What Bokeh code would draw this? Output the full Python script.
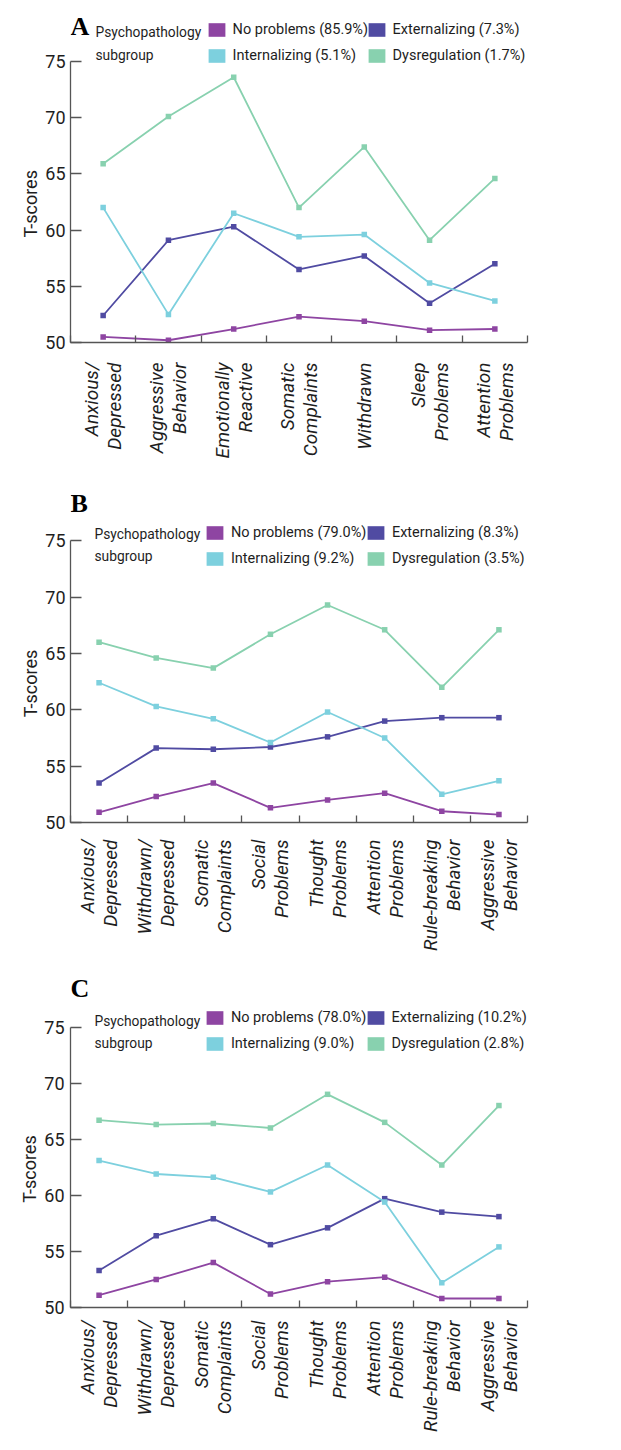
import numpy as np
from bokeh.plotting import figure
from bokeh.models import Range1d, FixedTicker, Legend, LegendItem, Label, LinearAxis, Title
from bokeh.layouts import column
from bokeh.embed import file_html
from bokeh.resources import INLINE

# ---------------- data ----------------
group_names = ["No problems", "Externalizing", "Internalizing", "Dysregulation"]
group_colors = ["#8E45A2", "#504BA2", "#7DD0DE", "#88D1AF"]
y_ticks = [50, 55, 60, 65, 70, 75]

a_labels = ["Anxious/\nDepressed", "Aggressive\nBehavior", "Emotionally\nReactive",
            "Somatic\nComplaints", "Withdrawn", "Sleep\nProblems", "Attention\nProblems"]
a_pct = ["85.9%", "7.3%", "5.1%", "1.7%"]
a_no_problems = [50.5, 50.2, 51.2, 52.3, 51.9, 51.1, 51.2]
a_externalizing = [52.4, 59.1, 60.3, 56.5, 57.7, 53.5, 57.0]
a_internalizing = [62.0, 52.5, 61.5, 59.4, 59.6, 55.3, 53.7]
a_dysregulation = [65.9, 70.1, 73.6, 62.0, 67.4, 59.1, 64.6]

bc_labels = ["Anxious/\nDepressed", "Withdrawn/\nDepressed", "Somatic\nComplaints",
             "Social\nProblems", "Thought\nProblems", "Attention\nProblems",
             "Rule-breaking\nBehavior", "Aggressive\nBehavior"]

b_pct = ["79.0%", "8.3%", "9.2%", "3.5%"]
b_no_problems = [50.9, 52.3, 53.5, 51.3, 52.0, 52.6, 51.0, 50.7]
b_externalizing = [53.5, 56.6, 56.5, 56.7, 57.6, 59.0, 59.3, 59.3]
b_internalizing = [62.4, 60.3, 59.2, 57.1, 59.8, 57.5, 52.5, 53.7]
b_dysregulation = [66.0, 64.6, 63.7, 66.7, 69.3, 67.1, 62.0, 67.1]

c_pct = ["78.0%", "10.2%", "9.0%", "2.8%"]
c_no_problems = [51.1, 52.5, 54.0, 51.2, 52.3, 52.7, 50.8, 50.8]
c_externalizing = [53.3, 56.4, 57.9, 55.6, 57.1, 59.7, 58.5, 58.1]
c_internalizing = [63.1, 61.9, 61.6, 60.3, 62.7, 59.4, 52.2, 55.4]
c_dysregulation = [66.7, 66.3, 66.4, 66.0, 69.0, 66.5, 62.7, 68.0]

# ---------------- style ----------------
FONT = "Roboto"
AXIS_COLOR = "#555555"
TEXT_COLOR = "#1e1e1e"
PAGE_W = 621


def build(letter, labels, pct, series, g):
    n = len(labels)
    xs = [i + 0.5 for i in range(n)]
    fl, ft, fw, fh = g["left"], g["top"], g["fw"], g["fh"]
    fb = ft + fh
    ppu = g["ppu"]
    ytop = 50 + fh / ppu

    def dx(px):
        return (px - fl) / fw * n

    def dy(py):
        return 50 + (fb - py) / fh * (ytop - 50)

    p = figure(frame_width=fw, frame_height=fh,
               min_border_left=fl, min_border_right=PAGE_W - fl - fw,
               min_border_top=ft - g["fig_top"], min_border_bottom=g["fig_bottom"] - fb,
               x_range=Range1d(0, n), y_range=Range1d(50, ytop),
               x_axis_type=None, y_axis_type=None,
               output_backend="svg", toolbar_location=None)
    p.outline_line_color = None
    p.background_fill_color = "white"
    p.border_fill_color = "white"

    yax = LinearAxis(ticker=FixedTicker(ticks=y_ticks, minor_ticks=[]), bounds=(50, 75))
    yax.axis_line_color = AXIS_COLOR
    yax.axis_line_width = 1.3
    yax.major_tick_line_color = AXIS_COLOR
    yax.major_tick_line_width = 1.3
    yax.major_tick_in = 11
    yax.major_tick_out = 0
    yax.minor_tick_line_color = None
    yax.major_label_standoff = g["ytick_standoff"]
    yax.major_label_text_font = FONT
    yax.major_label_text_font_size = "18px"
    yax.major_label_text_color = TEXT_COLOR
    p.add_layout(yax, "left")

    # y axis title, placed so that it is centred on the 50-75 span of the axis
    p.add_layout(Title(text="T-scores", align="left", offset=12.5 * ppu - 35.5,
                       vertical_align="top", standoff=0, text_font=FONT,
                       text_font_size="18px", text_font_style="normal",
                       text_color=TEXT_COLOR), "left")

    xax = LinearAxis(ticker=FixedTicker(ticks=xs, minor_ticks=list(range(n + 1))),
                     major_label_overrides={x: lab for x, lab in zip(xs, labels)})
    xax.axis_line_color = AXIS_COLOR
    xax.axis_line_width = 1.3
    xax.major_tick_line_color = None
    xax.major_tick_in = 0
    xax.major_tick_out = 0
    xax.minor_tick_line_color = AXIS_COLOR
    xax.minor_tick_line_width = 1.3
    xax.minor_tick_in = 7
    xax.minor_tick_out = 0
    xax.major_label_orientation = np.pi / 2
    xax.major_label_standoff = g["xlab_standoff"]
    xax.major_label_text_font = FONT
    xax.major_label_text_font_size = "19px"
    xax.major_label_text_font_style = "italic"
    xax.major_label_text_color = TEXT_COLOR
    xax.major_label_text_line_height = 1.0
    p.add_layout(xax, "below")

    pts = []
    for vals, color in zip(series, group_colors):
        p.line(xs, vals, line_color=color, line_width=1.8)
        r = p.rect(xs, vals, width=5.5, height=5.5, width_units="screen",
                   height_units="screen", fill_color=color, line_color=None)
        pts.append(r)

    names = [f"{nm} ({pc})" for nm, pc in zip(group_names, pct)]
    cols = [[0, 2], [1, 3]]
    for ci, idxs in enumerate(cols):
        leg = Legend(items=[LegendItem(label=names[k], renderers=[pts[k]]) for k in idxs],
                     location=(g["leg_x"][ci] - fl, fb - g["leg_bottom"]),
                     orientation="vertical")
        leg.background_fill_alpha = 0
        leg.border_line_alpha = 0
        leg.padding = 0
        leg.margin = 0
        leg.spacing = 9
        leg.glyph_width = 21
        leg.glyph_height = 17
        leg.label_height = 17
        leg.label_standoff = 6
        leg.label_text_font = FONT
        leg.label_text_font_size = "14.5px"
        leg.label_text_color = TEXT_COLOR
        p.add_layout(leg, "center")

    p.add_layout(Label(x=dx(g["title_x"]), y=dy(g["title_top"]),
                       text="Psychopathology\nsubgroup", text_font=FONT,
                       text_font_size="13.8px", text_color=TEXT_COLOR,
                       text_baseline="top", text_align="left", text_line_height=1.4))
    p.add_layout(Label(x=dx(g["letter_x"]), y=dy(g["letter_base"]), text=letter,
                       text_font="Liberation Serif", text_font_style="bold",
                       text_font_size="26px", text_color="black",
                       text_baseline="alphabetic", text_align="left"))
    return p


geom_a = dict(fig_top=0, fig_bottom=480, left=64, top=12, fw=457, fh=330, ppu=11.24,
              ytick_standoff=5, xlab_standoff=20,
              leg_x=[199.6, 359.6], leg_bottom=63.8,
              title_x=89, title_top=23.7, letter_x=64, letter_base=26)
geom_b = dict(fig_top=480, fig_bottom=962, left=64, top=486, fw=457, fh=336, ppu=11.27,
              ytick_standoff=5, xlab_standoff=17,
              leg_x=[197.9, 358.9], leg_bottom=567.3,
              title_x=88, title_top=525.3, letter_x=64, letter_base=502.5)
geom_c = dict(fig_top=962, fig_bottom=1450, left=70, top=968, fw=457, fh=339, ppu=11.22,
              ytick_standoff=6, xlab_standoff=13,
              leg_x=[203.9, 364.6], leg_bottom=1052.3,
              title_x=94, title_top=1012, letter_x=70, letter_base=987.5)

pa = build("A", a_labels, a_pct,
           [a_no_problems, a_externalizing, a_internalizing, a_dysregulation], geom_a)
pb = build("B", bc_labels, b_pct,
           [b_no_problems, b_externalizing, b_internalizing, b_dysregulation], geom_b)
pc = build("C", bc_labels, c_pct,
           [c_no_problems, c_externalizing, c_internalizing, c_dysregulation], geom_c)

layout = column(pa, pb, pc, spacing=0)
open("out.html", "w").write(file_html(layout, INLINE))
